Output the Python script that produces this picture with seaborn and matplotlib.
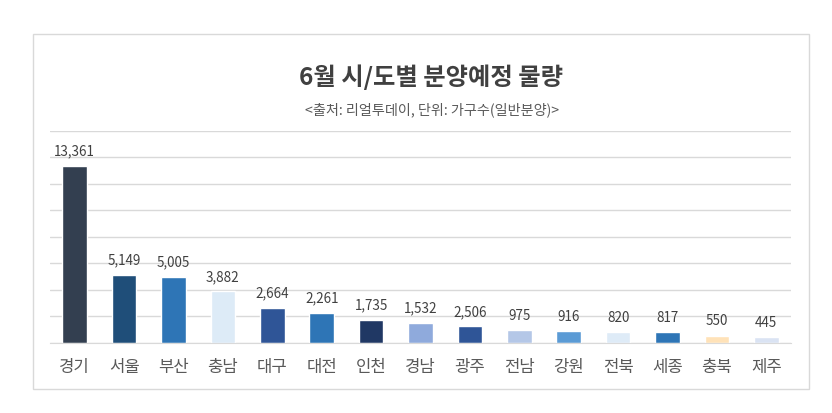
import pandas as pd
import matplotlib.pyplot as plt
import seaborn as sns
from matplotlib.patches import Rectangle

# 데이터
regions = ['경기', '서울', '부산', '충남', '대구', '대전', '인천', '경남',
           '광주', '전남', '강원', '전북', '세종', '충북', '제주']
# 막대 높이 (그림에서 읽은 값, 광주 막대는 라벨보다 짧게 그려져 있음)
heights = [13361, 5149, 5005, 3882, 2664, 2261, 1735, 1532,
           1250, 975, 916, 820, 817, 550, 445]
# 막대 위 라벨
value_labels = ['13,361', '5,149', '5,005', '3,882', '2,664', '2,261', '1,735', '1,532',
                '2,506', '975', '916', '820', '817', '550', '445']
colors = ['#333F50', '#1F4E79', '#2E75B6', '#DDEBF7', '#2F5597', '#2E75B6',
          '#203864', '#8FAADC', '#2F5597', '#B4C7E7', '#5B9BD5', '#DEEBF7',
          '#2E75B6', '#FFE2B8', '#DAE3F3']

df = pd.DataFrame({'region': regions, 'count': heights})

sns.set_style('white')
plt.rcParams['font.family'] = ['Noto Sans CJK KR', 'DejaVu Sans']

fig = plt.figure(figsize=(8.32, 4.14), dpi=100)
ax = fig.add_axes([50 / 832, 1 - 344 / 414, 741 / 832, (344 - 131.7) / 414])

sns.barplot(data=df, x='region', y='count', hue='region', palette=colors,
            width=0.5, legend=False, ax=ax, saturation=1)

ax.set_ylim(0, 16000)
ax.set_xlim(-0.5, len(regions) - 0.5)
ax.set_yticks(range(0, 16001, 2000))
ax.yaxis.grid(True, color='#D9D9D9', linewidth=1)
ax.set_axisbelow(True)
ax.tick_params(axis='y', left=False, labelleft=False)
ax.tick_params(axis='x', bottom=False, labelsize=12, labelcolor='#595959', pad=7)
for s in ['top', 'right', 'left']:
    ax.spines[s].set_visible(False)
ax.spines['bottom'].set_color('#D9D9D9')
ax.set_xlabel('')
ax.set_ylabel('')

# 값 라벨
bars = sorted([p for p in ax.patches if p.get_height() > 0], key=lambda p: p.get_x())
for bar, lab in zip(bars, value_labels):
    ax.annotate(lab, (bar.get_x() + bar.get_width() / 2, bar.get_height()),
                xytext=(0, 6), textcoords='offset points', ha='center', va='bottom',
                fontsize=9.7, color='#404040')

fig.text(0.518, 1 - 77 / 414, '6월 시/도별 분양예정 물량', ha='center', va='center',
         fontsize=17.5, fontweight='bold', color='#404040')
fig.text(0.519, 1 - 110 / 414, '<출처: 리얼투데이, 단위: 가구수(일반분양)>', ha='center',
         va='center', fontsize=10.2, color='#595959')

# 바깥 테두리
fig.patches.append(Rectangle((32.5 / 832, 1 - 389.5 / 414), (809 - 32.5) / 832,
                             (389.5 - 35) / 414, transform=fig.transFigure,
                             fill=False, edgecolor='#D9D9D9', linewidth=1))

fig.savefig('out.png', dpi=100)
